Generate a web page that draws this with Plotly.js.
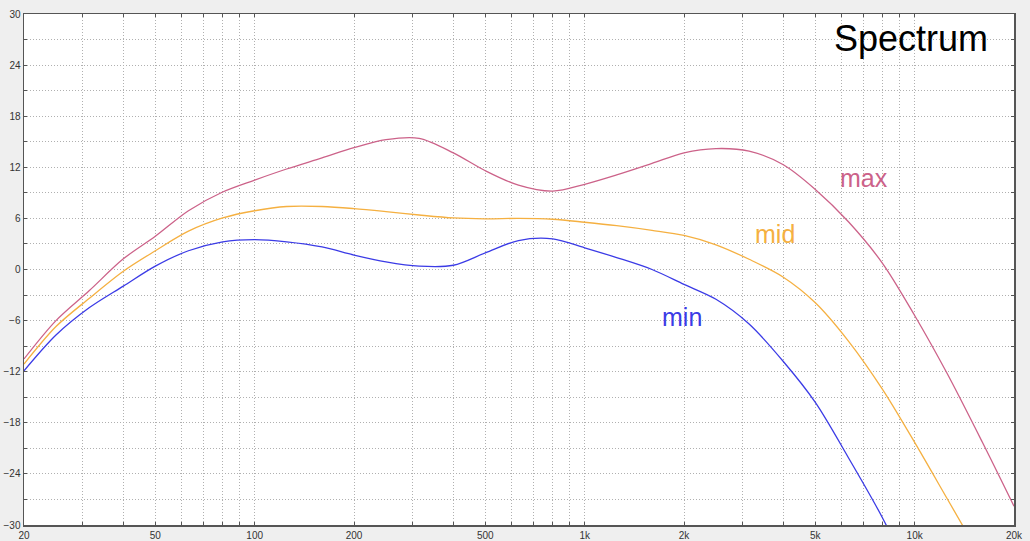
<!DOCTYPE html>
<html>
<head>
<meta charset="utf-8">
<script src="https://cdn.plot.ly/plotly-3.0.1.min.js"></script>
<style>
  html, body { margin: 0; padding: 0; background: #efefef; }
  #graph { width: 1030px; height: 541px; }
</style>
</head>
<body>
<div id="graph"></div>
<script>
// third-octave frequencies (Hz) shared by the three curves
var freqs = [20, 25, 31.5, 40, 50, 63, 80, 100, 125, 160, 200, 250, 315, 400, 500, 630, 800,
             1000, 1250, 1600, 2000, 2500, 3150, 4000, 5000, 6300, 8000, 10000, 12500, 16000, 20000];

// levels (dB)
var maxLevel = [-10.5, -6.0, -2.5, 1.25, 3.9, 6.9, 9.1, 10.5, 11.8, 13.1, 14.3, 15.25, 15.4, 13.7, 11.6, 9.9, 9.2,
                10.0, 11.1, 12.45, 13.7, 14.2, 13.9, 12.3, 9.4, 5.6, 0.7, -5.4, -12.1, -20.2, -27.8];

var midLevel = [-11.1, -6.7, -3.4, -0.2, 2.2, 4.5, 6.05, 6.9, 7.4, 7.4, 7.15, 6.8, 6.4, 6.05, 5.95, 6.0, 5.9,
                5.55, 5.15, 4.6, 4.0, 2.9, 1.2, -0.9, -3.9, -8.4, -14.1, -20.3, -26.8, -34.0, null];

var minLevel = [-11.9, -7.7, -4.5, -1.95, 0.4, 2.2, 3.25, 3.5, 3.25, 2.65, 1.7, 0.9, 0.4, 0.5, 1.95, 3.4, 3.6,
                2.55, 1.4, 0.0, -1.75, -3.5, -6.4, -10.8, -15.6, -22.1, -29.2, -37.0, null, null, null];

var xLabelVals = [20, 50, 100, 200, 500, 1000, 2000, 5000, 10000, 20000];
var xLabelText = ['20', '50', '100', '200', '500', '1k', '2k', '5k', '10k', '20k'];
var yLabelVals = [-30, -24, -18, -12, -6, 0, 6, 12, 18, 24, 30];

var colMax = '#cc6289';
var colMid = '#f5b041';
var colMin = '#3b3be6';

// grid on every 1..9 multiple of each decade, label only some of them
var xGrid = [], xGridText = [];
for (var d = 10; d <= 10000; d *= 10) {
    for (var m = 1; m <= 9; m++) {
        var v = d * m;
        if (v < 20 || v > 20000) continue;
        xGrid.push(v);
        var i = xLabelVals.indexOf(v);
        xGridText.push(i >= 0 ? xLabelText[i] : '');
    }
}
xGrid.push(20000);
xGridText.push('20k');

var yGrid = [], yGridText = [];
for (var y = -30; y <= 30; y += 3) {
    yGrid.push(y);
    yGridText.push(yLabelVals.indexOf(y) >= 0 ? String(y).replace('-', '\u2212') : '');
}

function curve(vals, color) {
    return {
        x: freqs,
        y: vals,
        type: 'scatter',
        mode: 'lines',
        line: { color: color, width: 1.3, shape: 'spline', smoothing: 0.9 },
        hoverinfo: 'skip'
    };
}

var data = [curve(maxLevel, colMax), curve(midLevel, colMid), curve(minLevel, colMin)];

var font = 'Liberation Sans, Arial, sans-serif';

var layout = {
    width: 1030,
    height: 541,
    margin: { l: 24, r: 16, t: 14, b: 16 },
    paper_bgcolor: '#efefef',
    plot_bgcolor: '#ffffff',
    showlegend: false,
    font: { family: font, color: '#333333' },
    title: {
        text: 'Spectrum',
        font: { family: font, size: 36, color: '#000000' },
        xref: 'paper', yref: 'paper',
        x: 0.896, y: 0.953,
        xanchor: 'center', yanchor: 'middle'
    },
    xaxis: {
        type: 'log',
        range: [Math.log10(20), Math.log10(20000)],
        tickmode: 'array',
        tickvals: xGrid,
        ticktext: xGridText,
        tickfont: { size: 10, color: '#333333' },
        ticks: 'inside',
        ticklen: 3,
        tickcolor: '#555555',
        showgrid: true,
        gridcolor: '#b0b0b0',
        griddash: '1px,2px',
        gridwidth: 1,
        zeroline: false,
        showline: true,
        linecolor: '#555555',
        linewidth: 1.5,
        mirror: 'ticks',
        automargin: false
    },
    yaxis: {
        range: [-30, 30],
        tickmode: 'array',
        tickvals: yGrid,
        ticktext: yGridText,
        tickfont: { size: 10, color: '#333333' },
        ticks: 'inside',
        ticklen: 3,
        tickcolor: '#555555',
        showgrid: true,
        gridcolor: '#b0b0b0',
        griddash: '1px,2px',
        gridwidth: 1,
        zeroline: false,
        showline: true,
        linecolor: '#555555',
        linewidth: 1.5,
        mirror: 'ticks',
        automargin: false
    },
    annotations: [
        { x: Math.log10(7000), y: 10.8, text: 'max', showarrow: false, font: { family: font, size: 25, color: colMax } },
        { x: Math.log10(3780), y: 4.2, text: 'mid', showarrow: false, font: { family: font, size: 25, color: colMid } },
        { x: Math.log10(1972), y: -5.6, text: 'min', showarrow: false, font: { family: font, size: 25, color: colMin } }
    ]
};

Plotly.newPlot('graph', data, layout, { staticPlot: true });
</script>
</body>
</html>
